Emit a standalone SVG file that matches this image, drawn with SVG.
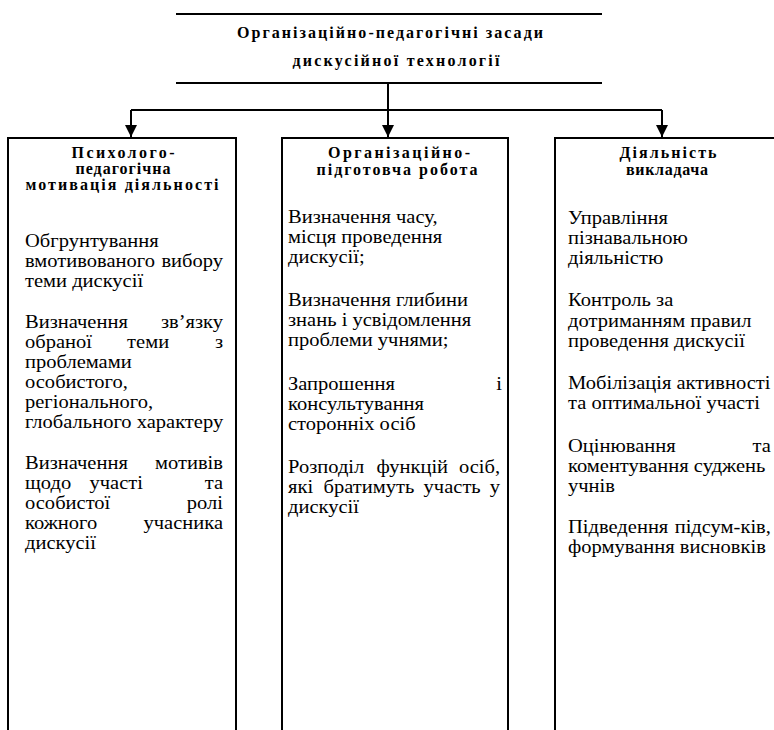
<svg xmlns="http://www.w3.org/2000/svg" width="774" height="730" viewBox="0 0 774 730">
<style>
.frame{fill:none;stroke:#000;stroke-width:2}
.conn{fill:none;stroke:#000;stroke-width:2}
.h{font-family:"Liberation Serif","DejaVu Serif",serif;font-weight:bold;font-size:16px;fill:#000;text-anchor:middle}
.t{font-family:"Liberation Serif","DejaVu Serif",serif;font-size:18px;fill:#000}
.e{text-anchor:end}
.m{text-anchor:middle}
</style>
<defs>
<marker id="arr" viewBox="0 0 12 12" refX="12" refY="6" markerWidth="12" markerHeight="12" markerUnits="userSpaceOnUse" orient="auto">
<path d="M0,0 L12,6 L0,12 Z" fill="#000"/>
</marker>
</defs>
<rect width="774" height="730" fill="#fff"/>
<g id="title">
<path class="frame" d="M176,14 H602 M176,83 H602"/>
<text class="h" x="390" y="38" textLength="306" lengthAdjust="spacing">Організаційно-педагогічні засади</text>
<text class="h" x="396" y="66" textLength="207" lengthAdjust="spacing">дискусійної технології</text>
</g>
<g id="connectors">
<path class="conn" d="M388,83 V110 M131,110 H662"/>
<path class="conn" d="M131,110 V137" marker-end="url(#arr)"/>
<path class="conn" d="M388,110 V137" marker-end="url(#arr)"/>
<path class="conn" d="M662,110 V137" marker-end="url(#arr)"/>
</g>
<g id="col1">
<path class="frame" d="M8,730 V138 H236 V730"/>
<text class="h" x="123" y="158" textLength="103" lengthAdjust="spacing">Психолого-</text>
<text class="h" x="123" y="174" textLength="95" lengthAdjust="spacing">педагогічна</text>
<text class="h" x="122" y="190" textLength="193" lengthAdjust="spacing">мотивація діяльності</text>
<g transform="translate(25,0) scale(1.14,1)">
<text class="t" x="0" y="247">Обгрунтування</text>
<text class="t" x="0" y="267">вмотивованого</text><text class="t e" x="173.7" y="267">вибору</text>
<text class="t" x="0" y="287">теми дискусії</text>
<text class="t" x="0" y="328">Визначення</text><text class="t e" x="173.7" y="328">зв’язку</text>
<text class="t" x="0" y="348">обраної</text><text class="t m" x="108" y="348">теми</text><text class="t e" x="173.7" y="348">з</text>
<text class="t" x="0" y="368">проблемами</text>
<text class="t" x="0" y="388">особистого,</text>
<text class="t" x="0" y="408">регіонального,</text>
<text class="t" x="0" y="428">глобального характеру</text>
<text class="t" x="0" y="469">Визначення</text><text class="t e" x="173.7" y="469">мотивів</text>
<text class="t" x="0" y="489">щодо</text><text class="t m" x="80" y="489">участі</text><text class="t e" x="173.7" y="489">та</text>
<text class="t" x="0" y="509">особистої</text><text class="t e" x="173.7" y="509">ролі</text>
<text class="t" x="0" y="529">кожного</text><text class="t e" x="173.7" y="529">учасника</text>
<text class="t" x="0" y="549">дискусії</text>
</g>
</g>
<g id="col2">
<path class="frame" d="M282,730 V138 H508 V730"/>
<text class="h" x="399" y="158" textLength="142" lengthAdjust="spacing">Організаційно-</text>
<text class="h" x="397" y="175" textLength="161" lengthAdjust="spacing">підготовча робота</text>
<g transform="translate(288,0) scale(1.14,1)">
<text class="t" x="0" y="223">Визначення часу,</text>
<text class="t" x="0" y="243">місця проведення</text>
<text class="t" x="0" y="263">дискусії;</text>
<text class="t" x="0" y="306">Визначення глибини</text>
<text class="t" x="0" y="326">знань і усвідомлення</text>
<text class="t" x="0" y="346">проблеми учнями;</text>
<text class="t" x="0" y="390">Запрошення</text><text class="t e" x="187.7" y="390">і</text>
<text class="t" x="0" y="410">консультування</text>
<text class="t" x="0" y="430">сторонніх осіб</text>
<text class="t" x="0" y="473">Розподіл</text><text class="t m" x="109" y="473">функцій</text><text class="t e" x="186" y="473">осіб,</text>
<text class="t" x="0" y="493">які</text><text class="t m" x="71" y="493">братимуть</text><text class="t m" x="144" y="493">участь</text><text class="t e" x="186" y="493">у</text>
<text class="t" x="0" y="513">дискусії</text>
</g>
</g>
<g id="col3">
<path class="frame" d="M555,730 V138 H780"/>
<text class="h" x="668" y="158" textLength="97" lengthAdjust="spacing">Діяльність</text>
<text class="h" x="667" y="175" textLength="82" lengthAdjust="spacing">викладача</text>
<g transform="translate(568,0) scale(1.14,1)">
<text class="t" x="0" y="224">Управління</text>
<text class="t" x="0" y="244">пізнавальною</text>
<text class="t" x="0" y="264">діяльністю</text>
<text class="t" x="0" y="306">Контроль за</text>
<text class="t" x="0" y="327">дотриманням правил</text>
<text class="t" x="0" y="347">проведення дискусії</text>
<text class="t" x="0" y="389">Мобілізація активності</text>
<text class="t" x="0" y="409">та оптимальної участі</text>
<text class="t" x="0" y="452">Оцінювання</text><text class="t e" x="178" y="452">та</text>
<text class="t" x="0" y="472">коментування суджень</text>
<text class="t" x="0" y="492">учнів</text>
<text class="t" x="0" y="533">Підведення</text><text class="t e" x="178" y="533">підсум-ків,</text>
<text class="t" x="0" y="553">формування висновків</text>
</g>
</g>
</svg>
